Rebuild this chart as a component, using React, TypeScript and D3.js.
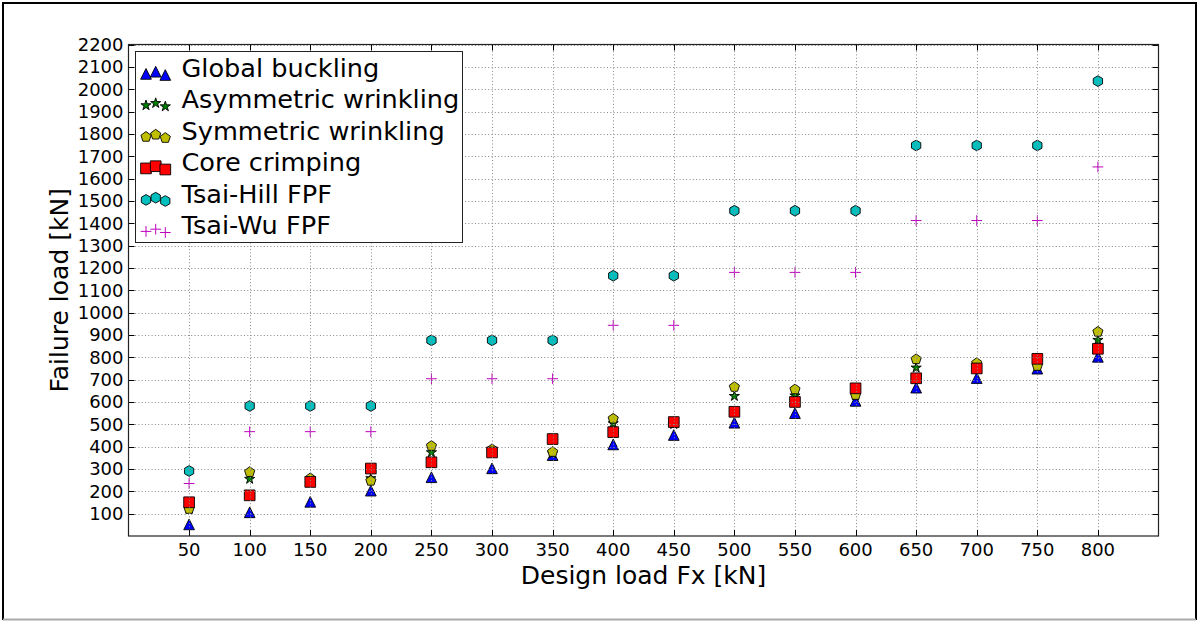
import * as d3 from "d3";

// design load Fx [kN]
const designLoads = [50, 100, 150, 200, 250, 300, 350, 400, 450, 500, 550, 600, 650, 700, 750, 800];
// failure loads [kN]
const globalBuckling = [52, 106, 153, 203, 263, 303, 362, 410, 452, 507, 550, 605, 664, 707, 749, 802];
const asymWrinkling = [120, 255, 255, 258, 374, 380, 370, 504, 500, 626, 628, 630, 753, 760, 760, 877];
const symWrinkling = [121, 286, 258, 247, 403, 388, 376, 525, 505, 667, 656, 631, 791, 774, 761, 914];
const coreCrimping = [151, 182, 242, 302, 330, 374, 434, 465, 510, 556, 600, 661, 706, 750, 793, 838];
const tsaiHill = [291, 582, 582, 582, 876, 876, 876, 1165, 1165, 1456, 1456, 1456, 1748, 1748, 1748, 2036];
const tsaiWu = [235, 467, 467, 467, 704, 704, 704, 943, 943, 1180, 1180, 1180, 1412, 1412, 1412, 1652];

const xTicks = designLoads;
const yTicks = d3.range(100, 2201, 100);

const W = 1197;
const H = 621;
const left = 128.5, right = 1158.5, top = 44.5, bottom = 536;
const MS = 10.7; // marker size px

// matplotlib-like marker shapes, size = m^2
const poly = (n: number, rot = 0) => ({
  draw(ctx: any, size: number) {
    const r = Math.sqrt(size) / 2;
    for (let i = 0; i < n; i++) {
      const a = rot + (i * 2 * Math.PI) / n;
      const x = r * Math.sin(a), y = -r * Math.cos(a);
      i ? ctx.lineTo(x, y) : ctx.moveTo(x, y);
    }
    ctx.closePath();
  },
});
const triangle = {
  draw(ctx: any, size: number) {
    const r = Math.sqrt(size) / 2;
    ctx.moveTo(0, -r);
    ctx.lineTo(r, r);
    ctx.lineTo(-r, r);
    ctx.closePath();
  },
};
const square = {
  draw(ctx: any, size: number) {
    const r = Math.sqrt(size) / 2;
    ctx.rect(-r, -r, 2 * r, 2 * r);
  },
};
const star = {
  draw(ctx: any, size: number) {
    const r = Math.sqrt(size) / 2, ri = r * 0.381966;
    for (let i = 0; i < 10; i++) {
      const a = (i * Math.PI) / 5;
      const rr = i % 2 ? ri : r;
      const x = rr * Math.sin(a), y = -rr * Math.cos(a);
      i ? ctx.lineTo(x, y) : ctx.moveTo(x, y);
    }
    ctx.closePath();
  },
};
const plus = {
  draw(ctx: any, size: number) {
    const r = Math.sqrt(size) / 2;
    ctx.moveTo(-r, 0);
    ctx.lineTo(r, 0);
    ctx.moveTo(0, -r);
    ctx.lineTo(0, r);
  },
};

const series = [
  { name: "Global buckling", values: globalBuckling, type: triangle, color: "#0000ff" },
  { name: "Asymmetric wrinkling", values: asymWrinkling, type: star, color: "#008000" },
  { name: "Symmetric wrinkling", values: symWrinkling, type: poly(5), color: "#bfbf00" },
  { name: "Core crimping", values: coreCrimping, type: square, color: "#ff0000" },
  { name: "Tsai-Hill FPF", values: tsaiHill, type: poly(6), color: "#00bfbf" },
  { name: "Tsai-Wu FPF", values: tsaiWu, type: plus, color: "#bf00bf", line: true },
];

const x = d3.scaleLinear().domain([0, 850]).range([left, right]);
const y = d3.scaleLinear().domain([0, 2200]).range([bottom, top]);

const Marker = ({ s, cx, cy }: any) => {
  const d = d3.symbol(s.type, MS * MS)() as string;
  return s.line ? (
    <path d={d} transform={`translate(${cx},${cy})`} fill="none" stroke={s.color} strokeWidth={1} />
  ) : (
    <path d={d} transform={`translate(${cx},${cy})`} fill={s.color} stroke="#000" strokeWidth={0.9} />
  );
};

export default function App() {
  const font = "DejaVu Sans, sans-serif";
  const legendOffsets = [2.2, 0, 3.3];
  return (
    <svg width={W} height={H} style={{ position: "absolute", left: 0, top: 0, background: "#fff" }} fontFamily={font}>
      <rect x={0} y={0} width={W} height={H} fill="#fff" />
      {/* figure frame */}
      <line x1={3} y1={3} x2={1196} y2={3} stroke="#000" strokeWidth={2} />
      <line x1={3} y1={2} x2={3} y2={620} stroke="#000" strokeWidth={2} />
      <line x1={1196} y1={2} x2={1196} y2={620} stroke="#000" strokeWidth={2} />
      <line x1={3} y1={619.5} x2={1196} y2={619.5} stroke="#aaa" strokeWidth={2} />

      {/* markers */}
      {series.map((s) => (
        <g key={s.name}>
          {designLoads.map((d, i) => (
            <Marker key={i} s={s} cx={x(d)} cy={y(s.values[i])} />
          ))}
        </g>
      ))}

      {/* grid */}
      <g stroke="#888" strokeWidth={1} strokeDasharray="1 2.3">
        {xTicks.map((t) => (
          <line key={"gx" + t} x1={Math.round(x(t)) + 0.5} x2={Math.round(x(t)) + 0.5} y1={top} y2={bottom} />
        ))}
        {yTicks.map((t) => (
          <line key={"gy" + t} x1={left} x2={right} y1={Math.round(y(t)) + 0.5} y2={Math.round(y(t)) + 0.5} />
        ))}
      </g>

      {/* ticks */}
      <g stroke="#000" strokeWidth={1}>
        {xTicks.map((t) => {
          const px = Math.round(x(t)) + 0.5;
          return (
            <g key={"tx" + t}>
              <line x1={px} x2={px} y1={bottom} y2={bottom - 6} />
              <line x1={px} x2={px} y1={top} y2={top + 6} />
            </g>
          );
        })}
        {yTicks.map((t) => {
          const py = Math.round(y(t)) + 0.5;
          return (
            <g key={"ty" + t}>
              <line x1={left} x2={left + 6} y1={py} y2={py} />
              <line x1={right} x2={right - 6} y1={py} y2={py} />
            </g>
          );
        })}
      </g>

      {/* axes frame */}
      <rect x={left} y={top} width={right - left} height={bottom - top} fill="none" stroke="#222" strokeWidth={1.2} />

      {/* tick labels */}
      <g fontSize={18} fill="#000">
        {xTicks.map((t) => (
          <text key={"lx" + t} x={x(t)} y={556} textAnchor="middle">
            {t}
          </text>
        ))}
        {yTicks.map((t) => (
          <text key={"ly" + t} x={123.5} y={y(t) + 6.5} textAnchor="end">
            {t}
          </text>
        ))}
      </g>

      {/* axis labels */}
      <text x={(left + right) / 2} y={584} textAnchor="middle" fontSize={25}>
        Design load Fx [kN]
      </text>
      <text transform={`translate(68,${(top + bottom) / 2}) rotate(-90)`} textAnchor="middle" fontSize={25}>
        Failure load [kN]
      </text>

      {/* legend */}
      <rect x={135.5} y={51.5} width={327} height={191} fill="#fff" stroke="#222" strokeWidth={1} />
      {series.map((s, i) => {
        const base = 76.7 + i * 31.5;
        return (
          <g key={"lg" + s.name}>
            {[146, 155.7, 165.3].map((mx, k) => (
              <Marker key={k} s={s} cx={mx} cy={base - 5 + legendOffsets[k]} />
            ))}
            <text x={181.5} y={base} fontSize={25.6}>
              {s.name}
            </text>
          </g>
        );
      })}
    </svg>
  );
}
